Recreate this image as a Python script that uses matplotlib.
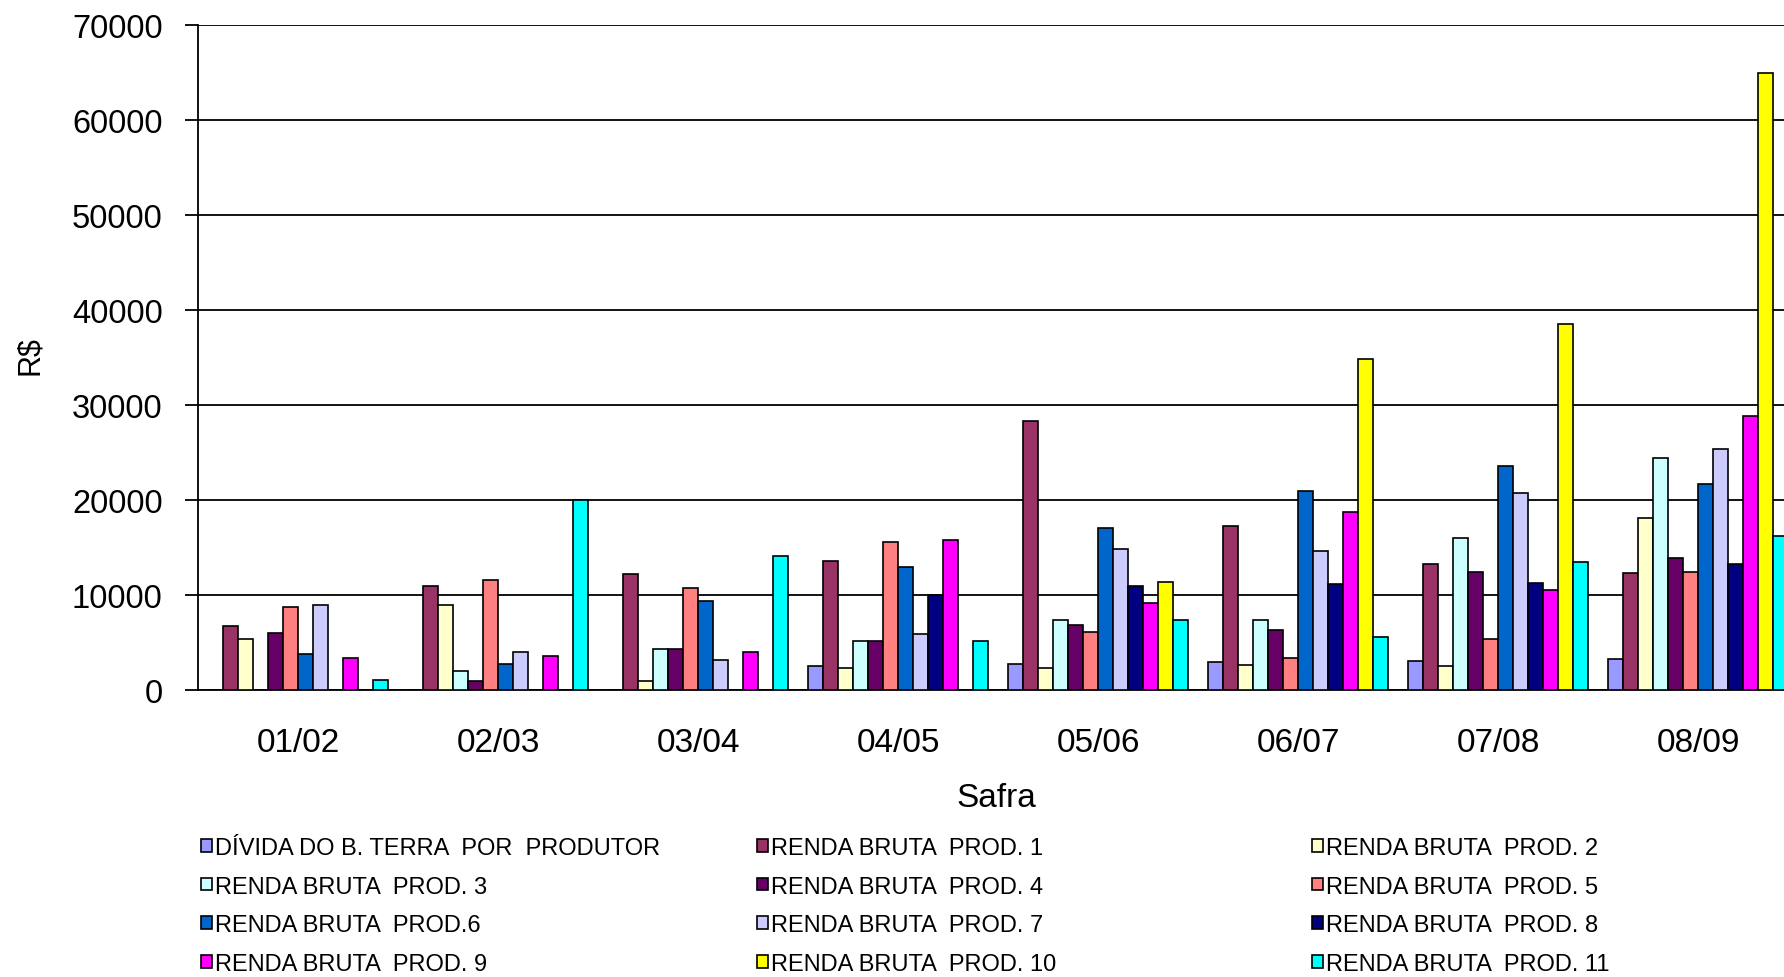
import numpy as np
import matplotlib
matplotlib.use('Agg')
import matplotlib.pyplot as plt

safras = ['01/02', '02/03', '03/04', '04/05', '05/06', '06/07', '07/08', '08/09']

divida = [0, 0, 0, 2500, 2700, 2900, 3100, 3300]
prod1 = [6700, 10900, 12200, 13600, 28300, 17300, 13300, 12300]
prod2 = [5400, 9000, 900, 2300, 2300, 2600, 2500, 18100]
prod3 = [0, 2000, 4300, 5200, 7400, 7400, 16000, 24400]
prod4 = [6000, 1000, 4300, 5200, 6800, 6300, 12400, 13900]
prod5 = [8700, 11600, 10700, 15600, 6100, 3400, 5400, 12400]
prod6 = [3800, 2700, 9400, 12900, 17100, 20900, 23600, 21700]
prod7 = [9000, 4000, 3200, 5900, 14800, 14600, 20700, 25400]
prod8 = [0, 0, 0, 10000, 11000, 11200, 11300, 13300]
prod9 = [3400, 3600, 4000, 15800, 9200, 18700, 10500, 28800]
prod10 = [0, 0, 0, 0, 11400, 34800, 38500, 65000]
prod11 = [1100, 20000, 14100, 5200, 7400, 5600, 13500, 16200]

labels = ['DÍVIDA DO B. TERRA  POR  PRODUTOR', 'RENDA BRUTA  PROD. 1', 'RENDA BRUTA  PROD. 2',
          'RENDA BRUTA  PROD. 3', 'RENDA BRUTA  PROD. 4', 'RENDA BRUTA  PROD. 5',
          'RENDA BRUTA  PROD.6', 'RENDA BRUTA  PROD. 7', 'RENDA BRUTA  PROD. 8',
          'RENDA BRUTA  PROD. 9', 'RENDA BRUTA  PROD. 10', 'RENDA BRUTA  PROD. 11']
series = [divida, prod1, prod2, prod3, prod4, prod5, prod6, prod7, prod8, prod9, prod10, prod11]
colors = ['#9999FF', '#993366', '#FFFFCC', '#CCFFFF', '#660066', '#FF8080',
          '#0066CC', '#CCCCFF', '#000080', '#FF00FF', '#FFFF00', '#00FFFF']

plt.rcParams['font.family'] = ['Liberation Sans', 'DejaVu Sans']

fig = plt.figure(figsize=(17.84, 9.78), dpi=100)
# plot area runs past the right edge, as in the original
ax = fig.add_axes([198 / 1784, 287 / 978, 1600 / 1784, 665 / 978])

x = np.arange(len(safras))
w = 0.075
handles = []
for i, vals in enumerate(series):
    b = ax.bar(x + (i - 5.5) * w, vals, w, color=colors[i], edgecolor='black',
               linewidth=1.2, zorder=3, label=labels[i])
    handles.append(b)

ax.set_xlim(-0.5, 7.5)
ax.set_ylim(0, 70000)
ax.set_yticks(range(0, 70001, 10000))
ax.yaxis.grid(True, color='black', linewidth=1.3, zorder=0)
ax.set_axisbelow(True)
for s in ['top', 'right']:
    ax.spines[s].set_visible(False)
ax.spines['left'].set_linewidth(1.3)
ax.spines['bottom'].set_linewidth(1.3)

ax.set_xticks(x)
ax.set_xticklabels(safras)
ax.tick_params(axis='x', length=0, pad=27, labelsize=24)
ax.tick_params(axis='y', length=9.5, width=1.3, pad=16, labelsize=23.5)

ax.set_xlabel('Safra', fontsize=24)
ax.xaxis.set_label_coords(0.499, -0.1624)
ax.xaxis.label.set_va('center')
fig.text(30 / 1784, 1 - 356 / 978, 'R$', rotation=90, fontsize=22,
         ha='center', va='center')

# legend: three columns, rows filled left to right
col_x = [201 / 1784, 757 / 1784, 1312 / 1784]
for c in range(3):
    hs = [handles[r * 3 + c] for r in range(4)]
    ls = [labels[r * 3 + c] for r in range(4)]
    fig.legend(hs, ls, loc='upper left', bbox_to_anchor=(col_x[c], 1 - 838 / 978),
               frameon=False, borderpad=0, borderaxespad=0, handlelength=0.45,
               handleheight=0.45, handletextpad=0.15, labelspacing=0.70,
               prop={'size': 17})

fig.savefig('out.png', dpi=100)
